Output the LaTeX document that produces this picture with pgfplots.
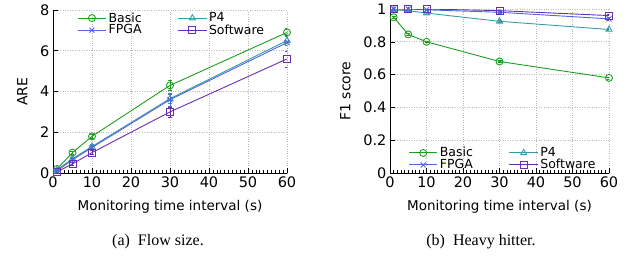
\documentclass[border=0pt]{standalone}
\usepackage{fontspec}
\setmainfont{DejaVu Sans}
\newfontfamily\capfont{Liberation Serif}
\usepackage{pgfplots}
\pgfplotsset{compat=1.18}
\definecolor{cBasic}{HTML}{1E9E1E}
\definecolor{cFPGA}{HTML}{5064E0}
\definecolor{cPF}{HTML}{3A9AAA}
\definecolor{cSW}{HTML}{6A2EB2}
\pgfplotsset{
  common/.style={
    scale only axis,
    /pgf/number format/assume math mode=true,
    font=\fontsize{14.5}{16}\selectfont,
    axis x line*=bottom, axis y line*=left,
    axis line style={black, line width=0.9pt},
    xmin=0, xmax=60, ymin=0,
    xtick={0,10,...,60},
    minor x tick num=9,
    tick align=inside,
    major tick length=5pt, minor tick length=3pt,
    tick style={black, line width=0.6pt},
    grid=major,
    major grid style={gray!55, dotted, line width=0.7pt},
    xlabel={Monitoring time interval (s)},
    xlabel style={font=\fontsize{13.5}{15}\selectfont, yshift=-6pt},
    ylabel style={font=\fontsize{14}{16}\selectfont},
    legend columns=2,
    legend cell align=left,
    legend style={draw=none, fill=none, font=\fontsize{12.5}{14}\selectfont,
      row sep=-3pt,
      /tikz/every even column/.append style={column sep=34pt}},
    legend image code/.code={
      \draw[mark repeat=2,mark phase=2] plot coordinates {(0cm,0cm) (0.5cm,0cm) (1.0cm,0cm)};},
    every axis plot/.append style={line width=0.9pt, mark size=3.5pt, mark options={solid, line width=0.9pt}},
    error bars/y dir=both, error bars/y explicit,
    error bars/error bar style={line width=0.6pt},
    error bars/error mark options={rotate=90, mark size=2pt},
  }
}
\begin{document}
\begin{tikzpicture}
\path (0pt,0pt) rectangle (632pt,-263pt);
\begin{axis}[common,
  at={(53pt,-173pt)}, anchor=south west,
  width=234pt, height=163pt,
  ymax=8, ytick={0,2,4,6,8},
  ylabel={ARE}, ylabel style={yshift=6pt},
  legend style={at={(0.09,1.01)}, anchor=north west},
]
\addplot[cBasic, mark=o] coordinates {(1,0.2) +- (0,0.05) (5,1.0) +- (0,0.08) (10,1.8) +- (0,0.1) (30,4.3) +- (0,0.25) (60,6.9) +- (0,0.2)};
\addlegendentry{Basic}
\addplot[cPF, mark=triangle] coordinates {(1,0.15) +- (0,0.05) (5,0.7) +- (0,0.08) (10,1.3) +- (0,0.1) (30,3.65) +- (0,0.2) (60,6.5) +- (0,0.25)};
\addlegendentry{P4}
\addplot[cFPGA, mark=x] coordinates {(1,0.1) +- (0,0.05) (5,0.65) +- (0,0.1) (10,1.25) +- (0,0.12) (30,3.6) +- (0,0.3) (60,6.4) +- (0,0.4)};
\addlegendentry{FPGA}
\addplot[cSW, mark=square] coordinates {(1,0.05) +- (0,0.05) (5,0.45) +- (0,0.08) (10,1.0) +- (0,0.1) (30,3.0) +- (0,0.25) (60,5.6) +- (0,0.4)};
\addlegendentry{Software}
\end{axis}
\node[font=\capfont\fontsize{16}{18}\selectfont] at (158pt,-242pt) {(a)\ \ Flow size.};
\begin{axis}[common,
  at={(390pt,-173pt)}, anchor=south west,
  width=219pt, height=164pt,
  ymax=1, ytick={0,0.2,...,1.0}, yticklabels={0,0.2,0.4,0.6,0.8,1},
  ylabel={F1 score}, ylabel style={yshift=6pt},
  legend style={at={(0.07,-0.01)}, anchor=south west},
]
\addplot[cBasic, mark=o] coordinates {(1,0.95) +- (0,0.005) (5,0.845) +- (0,0.005) (10,0.80) +- (0,0.005) (30,0.68) +- (0,0.005) (60,0.58) +- (0,0.005)};
\addlegendentry{Basic}
\addplot[cPF, mark=triangle] coordinates {(1,0.995) +- (0,0.003) (5,0.99) +- (0,0.003) (10,0.975) +- (0,0.005) (30,0.925) +- (0,0.005) (60,0.875) +- (0,0.005)};
\addlegendentry{P4}
\addplot[cFPGA, mark=x] coordinates {(1,1.0) +- (0,0.002) (5,1.0) +- (0,0.002) (10,0.995) +- (0,0.003) (30,0.98) +- (0,0.005) (60,0.94) +- (0,0.01)};
\addlegendentry{FPGA}
\addplot[cSW, mark=square] coordinates {(1,1.0) +- (0,0.002) (5,1.0) +- (0,0.002) (10,1.0) +- (0,0.002) (30,0.99) +- (0,0.005) (60,0.96) +- (0,0.01)};
\addlegendentry{Software}
\end{axis}
\node[font=\capfont\fontsize{16}{18}\selectfont] at (481pt,-242pt) {(b)\ \ Heavy hitter.};
\end{tikzpicture}
\end{document}
